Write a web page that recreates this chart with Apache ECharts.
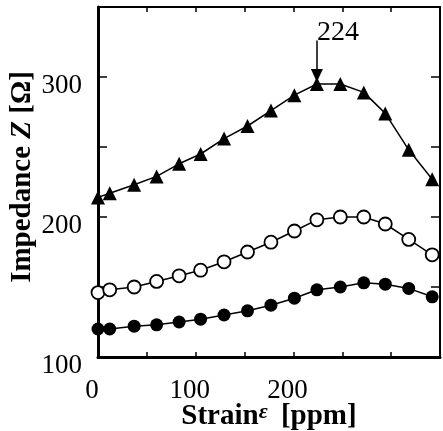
<!DOCTYPE html>
<html>
<head>
<meta charset="utf-8">
<script src="https://cdn.jsdelivr.net/npm/echarts@6/dist/echarts.min.js"></script>
<style>
    html, body { margin: 0; padding: 0; background: #fff; }
    #chart { width: 443px; height: 431px; }
</style>
</head>
<body>
<div id="chart"></div>
<script>
// strain [ppm]
const strain = [0, 12, 37, 60, 83, 105, 129, 153, 177, 201, 224, 248, 272, 294, 318, 342];
// impedance Z [Ω]
const zTriangle = [214, 217, 223, 229, 238, 245, 256, 265, 276, 287, 295, 295, 289, 274, 248, 227];
const zOpen = [146, 148, 150, 154, 158, 162, 168, 175, 182, 190, 198, 200, 200, 195, 184, 173];
const zFilled = [120, 120, 122, 123, 125, 127, 130, 133, 137, 142, 148, 150, 153, 152, 149, 143];
const peakStrain = 224;

const font = 'Liberation Serif';
const pairs = (ys) => strain.map((x, i) => [x, ys[i]]);

const chart = echarts.init(document.getElementById('chart'));

const baseX = {
    type: 'value',
    min: 0,
    max: 350,
    interval: 50,
    splitLine: { show: false },
    axisTick: { inside: true, length: 5, lineStyle: { color: '#000', width: 1.5 } },
};
const baseY = {
    type: 'value',
    min: 100,
    max: 350,
    interval: 50,
    splitLine: { show: false },
    axisTick: { inside: true, length: 9, lineStyle: { color: '#000', width: 1.5 } },
};
const tickText = { color: '#000', fontFamily: font, fontSize: 27 };

chart.setOption({
    animation: false,
    backgroundColor: '#fff',
    grid: { left: 98, right: 3, top: 7, bottom: 74, containLabel: false, outerBoundsMode: 'none' },
    xAxis: [
        {
            ...baseX,
            position: 'bottom',
            axisLine: { onZero: false, lineStyle: { color: '#000', width: 3 } },
            axisLabel: {
                margin: 20,
                formatter: (v) => (v % 100 === 0 && v < 300 ? `{t|${v}}` : ''),
                rich: { t: { ...tickText, padding: [0, 12, 0, 0] } },
            },
            name: 'Strain{e|ε} [ppm]',
            nameLocation: 'middle',
            nameGap: 44,
            nameMoveOverlap: false,
            nameTextStyle: {
                color: '#000',
                fontFamily: font,
                fontWeight: 'bold',
                fontSize: 29,
                rich: {
                    e: { fontFamily: font, fontStyle: 'italic', fontSize: 22, color: '#000', verticalAlign: 'top', padding: [0, 6, 10, 0] },
                },
            },
        },
        {
            ...baseX,
            position: 'top',
            axisLine: { onZero: false, lineStyle: { color: '#000', width: 2 } },
            axisLabel: { show: false },
        },
    ],
    yAxis: [
        {
            ...baseY,
            position: 'left',
            axisLine: { onZero: false, lineStyle: { color: '#000', width: 3 } },
            axisLabel: {
                margin: 16,
                formatter: (v) => (v % 100 === 0 && v < 350 ? `{t|${v}}` : ''),
                rich: { t: { ...tickText, padding: [18, 0, 0, 0] } },
            },
            name: 'Impedance {i|Z} [Ω]',
            nameLocation: 'middle',
            nameGap: 61,
            nameMoveOverlap: false,
            nameTextStyle: {
                color: '#000',
                fontFamily: font,
                fontWeight: 'bold',
                fontSize: 29,
                padding: [0, 0, 0, 10],
                rich: {
                    i: { fontFamily: font, fontWeight: 'bold', fontStyle: 'italic', fontSize: 29, color: '#000' },
                },
            },
        },
        {
            ...baseY,
            position: 'right',
            axisLine: { onZero: false, lineStyle: { color: '#000', width: 2 } },
            axisLabel: { show: false },
        },
    ],
    series: [
        {
            name: 'triangle',
            type: 'line',
            data: pairs(zTriangle),
            symbol: 'triangle',
            symbolSize: 14,
            lineStyle: { color: '#000', width: 1.5 },
            itemStyle: { color: '#000' },
            markLine: {
                silent: true,
                symbol: ['none', 'triangle'],
                symbolSize: [12, 13],
                lineStyle: { color: '#000', width: 1.5, type: 'solid' },
                label: { show: false },
                data: [[{ coord: [peakStrain, 326] }, { coord: [peakStrain, 301] }]],
            },
            markPoint: {
                silent: true,
                symbol: 'circle',
                symbolSize: 0,
                label: {
                    show: true,
                    position: 'right',
                    distance: 0,
                    formatter: String(peakStrain),
                    color: '#000',
                    fontFamily: font,
                    fontSize: 28,
                },
                data: [{ coord: [peakStrain, 332] }],
            },
        },
        {
            name: 'open',
            type: 'line',
            data: pairs(zOpen),
            symbol: 'circle',
            symbolSize: 13,
            lineStyle: { color: '#000', width: 1.5 },
            itemStyle: { color: '#fff', borderColor: '#000', borderWidth: 1.8 },
        },
        {
            name: 'filled',
            type: 'line',
            data: pairs(zFilled),
            symbol: 'circle',
            symbolSize: 13,
            lineStyle: { color: '#000', width: 1.5 },
            itemStyle: { color: '#000' },
        },
    ],
});
</script>
</body>
</html>
